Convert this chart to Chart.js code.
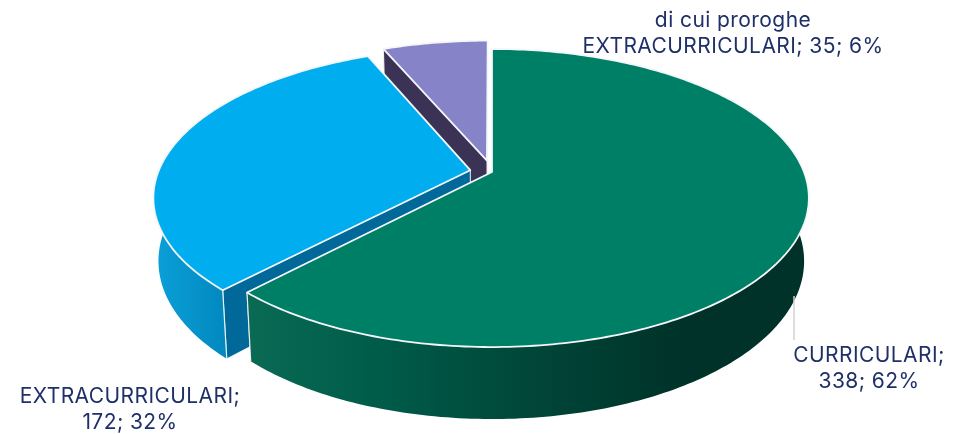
<!DOCTYPE html>
<html>
<head>
<meta charset="utf-8">
<script src="https://cdn.jsdelivr.net/npm/chart.js@4"></script>
<style>html,body{margin:0;padding:0;background:#fff}canvas{display:block}</style>
</head>
<body>
<canvas id="c" width="954" height="434"></canvas>
<script>
const categories = ['CURRICULARI', 'EXTRACURRICULARI', 'di cui proroghe EXTRACURRICULARI'];
const values = [338, 172, 35];
const percents = [62, 32, 6];
const labelLines = [
  ['CURRICULARI;', '338; 62%'],
  ['EXTRACURRICULARI;', '172; 32%'],
  ['di cui proroghe', 'EXTRACURRICULARI; 35; 6%']
];
const topColors = ['#007F67', '#00ADEF', '#8783C8'];
const faceColors = ['#005D4A', '#00699A', '#3B3355'];
const explode = [0, 7.1, 8.2];

const view = {cx: 492, cy: 172, R: 312, Rk: 144.5, q: 0.1745, D: 61.6, f: 0.985};

function project(u, v, bottom) {
  const s = 1 / (1 - view.q * v);
  const k = bottom ? view.f : 1;
  return [view.cx + view.R * u * s * k,
          view.cy + view.Rk * v * s * k + (bottom ? view.D * s : 0)];
}
function sliceGeom(el) {
  const mid = (el.startAngle + el.endAngle) / 2;
  const d = (el.options.offset || 0) / 100;
  return {a0: el.startAngle, a1: el.endAngle, du: Math.cos(mid) * d, dv: Math.sin(mid) * d};
}
function rim(g, bottom) {
  const pts = [], n = Math.max(8, Math.ceil((g.a1 - g.a0) * 60));
  for (let i = 0; i <= n; i++) {
    const a = g.a0 + (g.a1 - g.a0) * i / n;
    pts.push(project(Math.cos(a) + g.du, Math.sin(a) + g.dv, bottom));
  }
  return pts;
}
function trace(ctx, pts) {
  ctx.beginPath();
  pts.forEach((p, i) => i ? ctx.lineTo(p[0], p[1]) : ctx.moveTo(p[0], p[1]));
  ctx.closePath();
}
function wallFill(ctx, i) {
  if (i === 0) {
    const g = ctx.createLinearGradient(247, 0, 700, 0);
    g.addColorStop(0, '#0A6A54');
    g.addColorStop(0.25, '#005E4B');
    g.addColorStop(0.6, '#00483A');
    g.addColorStop(0.95, '#00332A');
    g.addColorStop(1, '#00322A');
    return g;
  }
  if (i === 1) {
    const g = ctx.createLinearGradient(155, 0, 232, 0);
    g.addColorStop(0, '#0B9FD8');
    g.addColorStop(1, '#0087BD');
    return g;
  }
  return faceColors[2];
}
const pie3d = {
  id: 'pie3d',
  beforeDatasetDraw(chart) {
    const ctx = chart.ctx;
    const arcs = chart.getDatasetMeta(0).data;
    ctx.save();
    ctx.lineJoin = 'round';
    [2, 1, 0].forEach(i => {
      const g = sliceGeom(arcs[i]);
      const top = rim(g, false), bot = rim(g, true);
      const apexT = project(g.du, g.dv, false), apexB = project(g.du, g.dv, true);
      // cut faces: the hidden (end) face first, the visible (start) face over it
      [[top[top.length - 1], bot[bot.length - 1]], [top[0], bot[0]]].forEach(([t, b]) => {
        trace(ctx, [apexT, t, b, apexB]);
        ctx.fillStyle = faceColors[i];
        ctx.fill();
        ctx.strokeStyle = 'rgba(255,255,255,0.75)';
        ctx.lineWidth = 1;
        ctx.stroke();
      });
      // outer wall
      trace(ctx, top.concat(bot.slice().reverse()));
      ctx.fillStyle = wallFill(ctx, i);
      ctx.fill();
      [[top[0], bot[0]], [top[top.length - 1], bot[bot.length - 1]]].forEach(([t, b]) => {
        ctx.beginPath(); ctx.moveTo(t[0], t[1]); ctx.lineTo(b[0], b[1]);
        ctx.strokeStyle = 'rgba(255,255,255,0.85)';
        ctx.lineWidth = 1.2;
        ctx.stroke();
      });
      // top surface
      trace(ctx, [apexT].concat(top));
      ctx.fillStyle = arcs[i].options.backgroundColor;
      ctx.fill();
      ctx.strokeStyle = arcs[i].options.borderColor;
      ctx.lineWidth = arcs[i].options.borderWidth;
      ctx.stroke();
    });
    ctx.restore();
    return false;
  },
  afterDraw(chart) {
    const ctx = chart.ctx;
    ctx.save();
    // leader line
    ctx.strokeStyle = '#D2D2D2';
    ctx.lineWidth = 1.5;
    ctx.beginPath(); ctx.moveTo(794, 296); ctx.lineTo(794, 340); ctx.stroke();
    ctx.fillStyle = '#1F3068';
    ctx.font = '400 21px Inter, "Open Sans", sans-serif';
    ctx.letterSpacing = '0.42px';
    ctx.textAlign = 'center';
    ctx.textBaseline = 'alphabetic';
    const pos = [[869, 362], [130, 403], [733, 27]];
    labelLines.forEach((lines, i) => {
      lines.forEach((t, j) => ctx.fillText(t, pos[i][0], pos[i][1] + j * 25.5));
    });
    ctx.restore();
  }
};
new Chart(document.getElementById('c'), {
  type: 'pie',
  data: {
    labels: categories,
    datasets: [{
      data: values,
      backgroundColor: topColors,
      borderColor: '#F4F6FA',
      borderWidth: 1.8,
      offset: explode
    }]
  },
  options: {
    responsive: false,
    animation: false,
    plugins: {legend: {display: false}, tooltip: {enabled: false}}
  },
  plugins: [pie3d]
});
</script>
</body>
</html>
